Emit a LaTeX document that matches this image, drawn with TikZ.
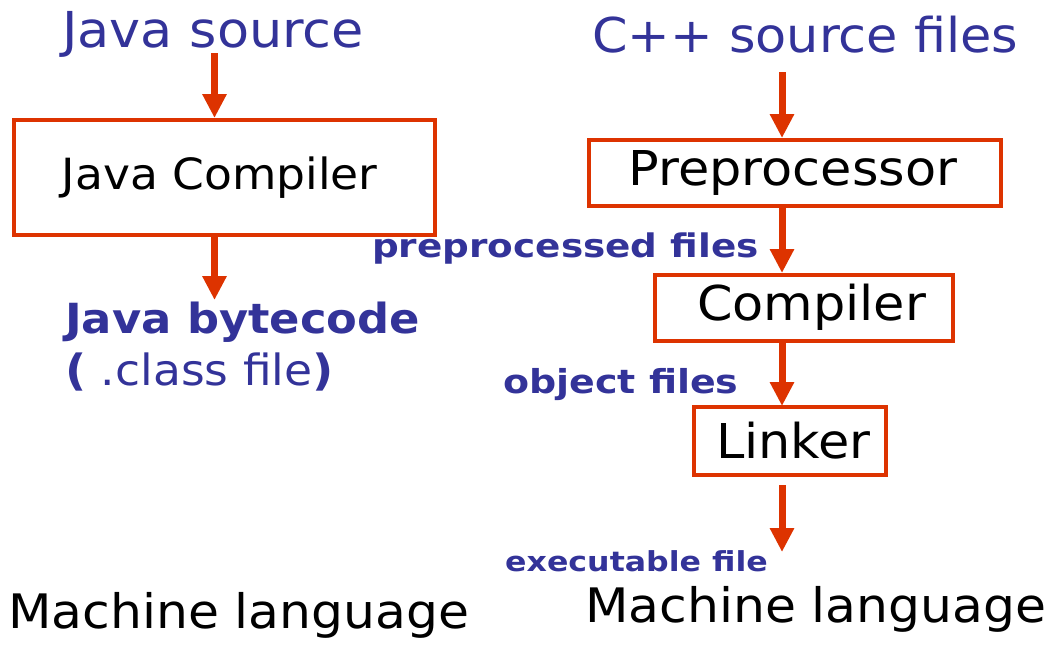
\documentclass[tikz,border=0pt]{standalone}
\usepackage{fontspec}
\setmainfont[FakeStretch=1.06]{DejaVu Sans}
\newfontfamily\wideb[FakeStretch=1.15]{DejaVu Sans Bold}
\newfontfamily\midb[FakeStretch=1.08]{DejaVu Sans Bold}
\usetikzlibrary{arrows.meta}
\definecolor{navy}{RGB}{51,51,153}
\definecolor{flame}{RGB}{221,51,0}
\tikzset{
  stagebox/.style={draw=flame, line width=4pt, inner sep=0pt, text=black},
  flow/.style={draw=flame, line width=7pt, -{Triangle[width=23pt,length=24pt]}, shorten >=0pt},
  lbl/.style={anchor=base west, inner sep=0pt, text=navy},
  plain/.style={anchor=base west, inner sep=0pt, text=black},
}
\newcommand{\fs}[1]{\fontsize{#1}{#1}\selectfont}
\begin{document}
\begin{tikzpicture}[x=1pt,y=-1pt]
\useasboundingbox (0,0) rectangle (1054,649);
% left column
\node[lbl, font=\fs{49.5}] (jsrc) at (62,47) {Java source};
\node[stagebox, minimum width=421.5pt, minimum height=115pt, font=\fs{43}] (jc) at (224.25,177.5) {\hspace{-9pt}Java Compiler};
\node[lbl, font=\midb\fs{41.5}] (jbc) at (65,333) {Java bytecode};
\node[lbl, font=\fs{43}] (cls) at (65,385) {{\midb(} .class file{\midb)}};
\node[plain, font=\fs{47.5}] (ml1) at (8,628) {Machine language};
\coordinate (a1s) at (214.5,53);
\coordinate (a1e) at (214.5,118);
\coordinate (a2s) at (214.5,237);
\coordinate (a2e) at (214.5,300);
\draw[flow] (a1s) -- (a1e);
\draw[flow] (a2s) -- (a2e);
% right column
\node[lbl, font=\fs{48}] (csrc) at (592,52) {C++ source files};
\node[stagebox, minimum width=412pt, minimum height=66pt, font=\fs{48}] (pp) at (795,173) {\hspace{-4pt}Preprocessor};
\node[lbl, font=\wideb\fs{32.5}] (ppf) at (372,257) {preprocessed files};
\node[stagebox, minimum width=297.5pt, minimum height=66pt, font=\fs{48}] (cc) at (804,307.5) {\hspace{15pt}Compiler};
\node[lbl, font=\wideb\fs{33}] (obj) at (503,393) {object files};
\node[stagebox, minimum width=192.5pt, minimum height=67.5pt, font=\fs{48}] (lk) at (790,441) {\hspace{7pt}Linker};
\node[lbl, font=\wideb\fs{27.5}] (exe) at (505,571) {executable file};
\node[plain, font=\fs{47.5}] (ml2) at (585,622) {Machine language};
\coordinate (b1s) at (782,72);
\coordinate (b1e) at (782,138);
\coordinate (b2s) at (782,208);
\coordinate (b2e) at (782,273);
\coordinate (b3s) at (782,342);
\coordinate (b3e) at (782,406);
\coordinate (b4s) at (782,485);
\coordinate (b4e) at (782,552);
\draw[flow] (b1s) -- (b1e);
\draw[flow] (b2s) -- (b2e);
\draw[flow] (b3s) -- (b3e);
\draw[flow] (b4s) -- (b4e);
\end{tikzpicture}
\end{document}
